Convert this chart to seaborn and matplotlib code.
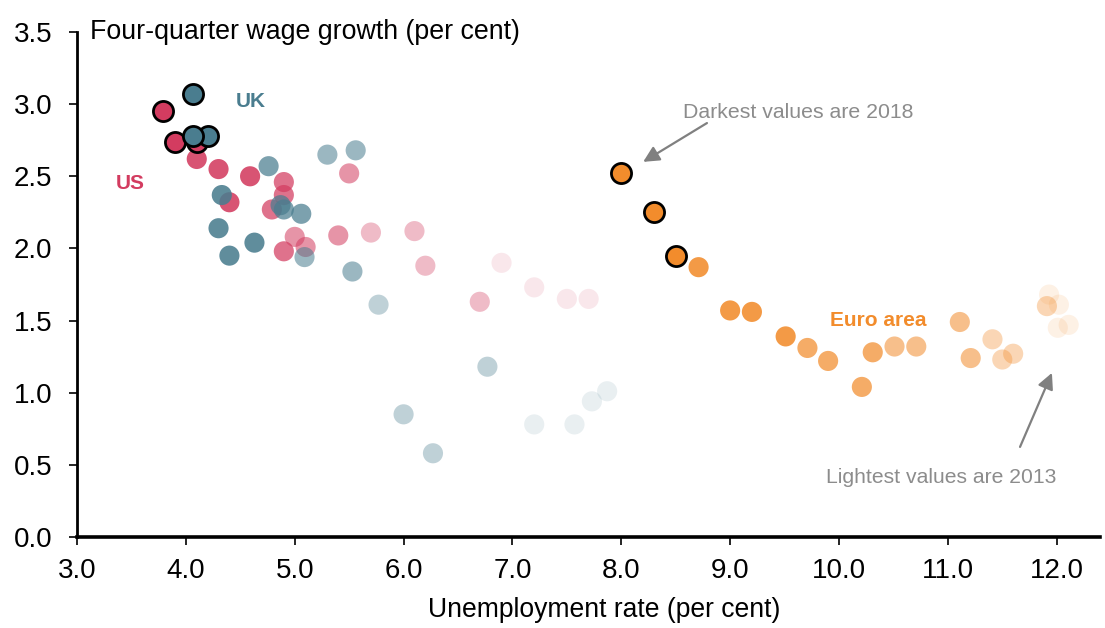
import matplotlib
matplotlib.use("Agg")
import matplotlib.pyplot as plt
import seaborn as sns
import pandas as pd

# 数据（按时间顺序，2013Q1 -> 2018Q3）
years = [2013] * 4 + [2014] * 4 + [2015] * 4 + [2016] * 4 + [2017] * 4 + [2018] * 3

us_unemp = [7.70, 7.50, 7.20, 6.90, 6.70, 6.20, 6.10, 5.70, 5.50, 5.40, 5.10, 5.00,
            4.90, 4.90, 4.90, 4.79, 4.59, 4.40, 4.30, 4.10, 4.10, 3.90, 3.79]
us_wage = [1.65, 1.65, 1.73, 1.90, 1.63, 1.88, 2.12, 2.11, 2.52, 2.09, 2.01, 2.08,
           1.98, 2.46, 2.37, 2.27, 2.50, 2.32, 2.55, 2.62, 2.74, 2.74, 2.95]

uk_unemp = [7.87, 7.73, 7.57, 7.20, 6.77, 6.27, 6.00, 5.77, 5.56, 5.53, 5.30, 5.09,
            5.06, 4.90, 4.87, 4.76, 4.63, 4.40, 4.30, 4.33, 4.20, 4.07, 4.07]
uk_wage = [1.01, 0.94, 0.78, 0.78, 1.18, 0.58, 0.85, 1.61, 2.68, 1.84, 2.65, 1.94,
           2.24, 2.27, 2.30, 2.57, 2.04, 1.95, 2.14, 2.37, 2.78, 2.78, 3.07]

ea_unemp = [12.11, 12.02, 12.01, 11.93, 11.91, 11.60, 11.50, 11.41, 11.21, 11.11, 10.71, 10.51,
            10.31, 10.21, 9.90, 9.71, 9.51, 9.20, 9.00, 8.71, 8.50, 8.30, 8.00]
ea_wage = [1.47, 1.61, 1.45, 1.68, 1.60, 1.27, 1.23, 1.37, 1.24, 1.49, 1.32, 1.32,
           1.28, 1.04, 1.22, 1.31, 1.39, 1.56, 1.57, 1.87, 1.95, 2.25, 2.52]

x_ticks = [3.0, 4.0, 5.0, 6.0, 7.0, 8.0, 9.0, 10.0, 11.0, 12.0]
y_ticks = [0.0, 0.5, 1.0, 1.5, 2.0, 2.5, 3.0, 3.5]

colors = {"US": "#d33c60", "UK": "#4a7d8f", "Euro area": "#f28c2c"}
year_alpha = {2013: 0.12, 2014: 0.35, 2015: 0.55, 2016: 0.72, 2017: 0.88, 2018: 1.0}

df = pd.concat([
    pd.DataFrame({"region": "US", "year": years, "unemp": us_unemp, "wage": us_wage}),
    pd.DataFrame({"region": "UK", "year": years, "unemp": uk_unemp, "wage": uk_wage}),
    pd.DataFrame({"region": "Euro area", "year": years, "unemp": ea_unemp, "wage": ea_wage}),
], ignore_index=True)

sns.set_theme(style="white")
plt.rcParams['font.family'] = ['Liberation Sans', 'DejaVu Sans']
plt.rcParams['text.color'] = 'black'

fig = plt.figure(figsize=(11.05, 6.28), dpi=100)
ax = fig.add_axes([0.0697, 0.145, 0.926, 0.804])

for region in ["US", "UK", "Euro area"]:
    for yr in sorted(year_alpha):
        sub = df[(df["region"] == region) & (df["year"] == yr)]
        sns.scatterplot(data=sub, x="unemp", y="wage", ax=ax, s=210,
                        color=colors[region], alpha=year_alpha[yr],
                        edgecolor="black" if yr == 2018 else "none",
                        linewidth=2.0 if yr == 2018 else 0,
                        legend=False, zorder=3)

ax.set_xlim(3.0, 12.4)
ax.set_ylim(0.0, 3.5)
ax.set_xticks(x_ticks)
ax.set_yticks(y_ticks)
ax.set_xticklabels([f"{v:.1f}" for v in x_ticks], fontsize=20)
ax.set_yticklabels([f"{v:.1f}" for v in y_ticks], fontsize=20)
ax.tick_params(axis="x", direction="out", length=6, width=1.2, pad=9, colors="black")
ax.tick_params(axis="y", direction="out", length=6, width=1.2, pad=12, colors="black")
ax.xaxis.set_ticks_position("bottom")
ax.yaxis.set_ticks_position("left")

for side in ["top", "right"]:
    ax.spines[side].set_visible(False)
ax.spines["bottom"].set_linewidth(2.6)
ax.spines["left"].set_linewidth(2.0)
ax.spines["bottom"].set_color("black")
ax.spines["left"].set_color("black")
ax.grid(False)

ax.set_xlabel("")
ax.set_ylabel("")
fig.text(604 / 1105, 1 - 610 / 628, "Unemployment rate (per cent)", fontsize=19.1,
         ha="center", va="center", color="black")
ax.text(3.12, 3.5, "Four-quarter wage growth (per cent)", fontsize=19.3, va="center", ha="left",
        color="black")

# 系列标签
ax.text(4.456, 3.02, "UK", color=colors["UK"], fontsize=15, fontweight="bold", va="center")
ax.text(3.357, 2.45, "US", color=colors["US"], fontsize=15, fontweight="bold", va="center")
ax.text(9.914, 1.497, "Euro area", color=colors["Euro area"], fontsize=15, fontweight="bold", va="center")

# 注释
ax.text(8.568, 2.945, "Darkest values are 2018", color="#8c8c8c", fontsize=15.3, va="center")
ax.text(9.877, 0.409, "Lightest values are 2013", color="#8c8c8c", fontsize=15.2, va="center")
ax.annotate("", xy=(8.201, 2.60), xytext=(8.787, 2.869),
            arrowprops=dict(arrowstyle="-|>", color="#808080", lw=1.6, mutation_scale=24,
                            shrinkA=0, shrinkB=0))
ax.annotate("", xy=(11.956, 1.137), xytext=(11.663, 0.624),
            arrowprops=dict(arrowstyle="-|>", color="#808080", lw=1.6, mutation_scale=24,
                            shrinkA=0, shrinkB=0))

plt.savefig("out.png", dpi=100)
plt.close()
